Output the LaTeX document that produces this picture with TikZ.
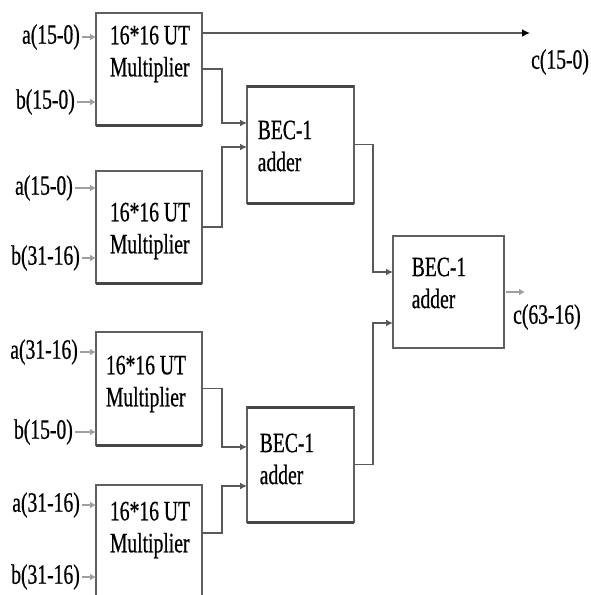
\documentclass[tikz,border=0pt]{standalone}
\usepackage{fontspec}
\newfontfamily\diagfont[FakeStretch=0.7, FakeBold=0.6]{Liberation Serif}
\usepackage{tikz}
\usetikzlibrary{arrows.meta, calc}

\begin{document}
\begin{tikzpicture}[x=1pt, y=-1pt,
  box/.style={draw=gray!75!black, line width=1.1pt, fill=white, inner sep=0pt, outer sep=0pt},
  txt/.style={font=\diagfont\fontsize{28}{32}\selectfont, align=left, inner sep=0pt},
  sig/.style={font=\diagfont\fontsize{28}{32}\selectfont, inner sep=0pt},
  inarr/.style={-{Latex[length=6pt, width=7pt]}, draw=gray!75, line width=2.2pt, shorten <=2pt},
  wire/.style={-{Latex[length=7pt, width=7pt]}, draw=gray!70!black, line width=1.6pt},
  heavy/.style={draw=gray!55!black, line width=3pt}]
\useasboundingbox (0,0) rectangle (590,595);

% multipliers
\node[box, minimum width=106pt, minimum height=112pt] (mulA) at (149,69) {};
\node[box, minimum width=106pt, minimum height=112pt] (mulB) at (149,227) {};
\node[box, minimum width=106pt, minimum height=113pt] (mulC) at (149,388.5) {};
\node[box, minimum width=106pt, minimum height=112pt] (mulD) at (149,541) {};
\node[txt] (mulAtxt) at (150,54) {16*16 UT\\Multiplier};
\node[txt] (mulBtxt) at (150,231) {16*16 UT\\Multiplier};
\node[txt] (mulCtxt) at (146,384) {16*16 UT\\Multiplier};
\node[txt] (mulDtxt) at (150,530) {16*16 UT\\Multiplier};

% BEC adders
\node[box, minimum width=107pt, minimum height=117pt] (becA) at (300.5,144.5) {};
\node[box, minimum width=107pt, minimum height=115pt] (becB) at (300.5,464.5) {};
\node[box, minimum width=111pt, minimum height=112pt] (becC) at (448.5,292) {};
\node[txt] (becAtxt) at (285,146) {BEC-1\\adder};
\node[txt] (becBtxt) at (287,459) {BEC-1\\adder};
\node[txt] (becCtxt) at (439,283) {BEC-1\\adder};

\draw[heavy] (mulA.south west) -- (mulA.south east);
\draw[heavy] (mulB.south west) -- (mulB.south east);
\draw[heavy] (mulC.south west) -- (mulC.south east);
\draw[heavy] (becA.north west) -- (becA.north east);
\draw[heavy] (becA.south west) -- (becA.south east);
\draw[heavy] (becB.north west) -- (becB.north east);
\draw[heavy] (becB.south west) -- (becB.south east);

% inputs
\foreach \pin/\px/\py/\lbl/\mul in {aA/80/37/a(15-0)/mulA, bA/75/102/b(15-0)/mulA,
    aB/73/188/a(15-0)/mulB, bB/80/258/b(31-16)/mulB,
    aC/78/352/a(31-16)/mulC, bC/73/432/b(15-0)/mulC,
    aD/80/505/a(31-16)/mulD, bD/80/577/b(31-16)/mulD} {
  \node[sig, anchor=east] (\pin) at (\px,\py) {\lbl};
  \draw[inarr] (\pin) -- (\pin -| \mul.west);
}

% ports
\coordinate (becAin1) at ($(becA.north west)+(0,37)$);
\coordinate (becAin2) at ($(becA.north west)+(0,61)$);
\coordinate (becBin1) at ($(becB.north west)+(0,40)$);
\coordinate (becBin2) at ($(becB.north west)+(0,79)$);
\coordinate (becCin1) at ($(becC.north west)+(0,36)$);
\coordinate (becCin2) at ($(becC.north west)+(0,87)$);
\coordinate (mulAtop) at ($(mulA.north east)+(0,20)$);
\coordinate (mulDout) at ($(mulD.east)+(0,-8)$);
\coordinate (cLow) at (530,33);
\coordinate (cHigh) at ($(becC.east)+(21,0)$);

% connections
\draw[wire] (mulA.east) -- ++(20,0) |- (becAin1);
\draw[wire] (mulB.east) -- ++(20,0) |- (becAin2);
\draw[wire] (mulC.east) -- ++(20,0) |- (becBin1);
\draw[wire] (mulDout) -- ++(20,0) |- (becBin2);
\draw[wire] (becA.east) -- ++(19,0) |- (becCin1);
\draw[wire] (becB.east) -- ++(19,0) |- (becCin2);

% outputs
\draw[wire, -{Latex[length=8pt, width=8pt, color=black]}] (mulAtop) -- (cLow);
\draw[inarr] (becC.east) -- (cHigh);
\node[sig, anchor=west] (cLo) at (531,62) {c(15-0)};
\node[sig, anchor=west] (cHi) at (513,317) {c(63-16)};
\end{tikzpicture}
\end{document}
